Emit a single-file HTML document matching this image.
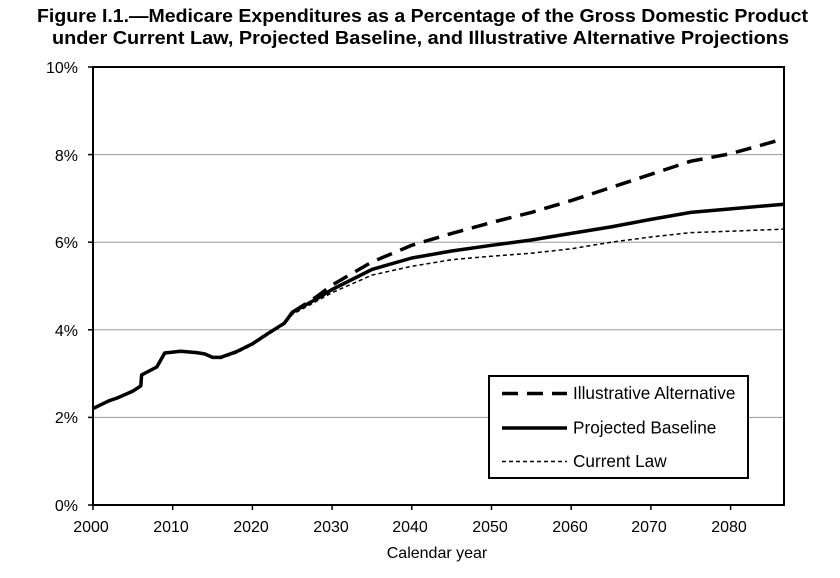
<!DOCTYPE html>
<html><head><meta charset="utf-8"><style>body{margin:0;background:#fff}svg{display:block}text{font-family:"Liberation Sans",Arial,sans-serif}</style></head><body>
<svg width="840" height="578" viewBox="0 0 840 578" xmlns="http://www.w3.org/2000/svg">
<text x="37" y="22" font-size="18.5" font-weight="bold" textLength="771" lengthAdjust="spacingAndGlyphs">Figure I.1.—Medicare Expenditures as a Percentage of the Gross Domestic Product</text>
<text x="52" y="44" font-size="18.5" font-weight="bold" textLength="737" lengthAdjust="spacingAndGlyphs">under Current Law, Projected Baseline, and Illustrative Alternative Projections</text>
<g stroke="#999" stroke-width="1">
<line x1="93" y1="417.4" x2="784" y2="417.4"/><line x1="93" y1="329.8" x2="784" y2="329.8"/><line x1="93" y1="242.2" x2="784" y2="242.2"/><line x1="93" y1="154.6" x2="784" y2="154.6"/>
</g>
<rect x="93" y="67" width="691" height="438" fill="none" stroke="#000" stroke-width="2"/>
<g stroke="#000" stroke-width="1.5">
<line x1="88" y1="505" x2="93" y2="505"/><line x1="88" y1="417.4" x2="93" y2="417.4"/><line x1="88" y1="329.8" x2="93" y2="329.8"/><line x1="88" y1="242.2" x2="93" y2="242.2"/><line x1="88" y1="154.6" x2="93" y2="154.6"/><line x1="88" y1="67" x2="93" y2="67"/>
<line x1="93" y1="505" x2="93" y2="510"/><line x1="172.7" y1="505" x2="172.7" y2="510"/><line x1="252.4" y1="505" x2="252.4" y2="510"/><line x1="332.1" y1="505" x2="332.1" y2="510"/><line x1="411.8" y1="505" x2="411.8" y2="510"/><line x1="491.5" y1="505" x2="491.5" y2="510"/><line x1="571.2" y1="505" x2="571.2" y2="510"/><line x1="650.9" y1="505" x2="650.9" y2="510"/><line x1="730.6" y1="505" x2="730.6" y2="510"/>
</g>
<g font-size="16" text-anchor="end">
<text x="78" y="511">0%</text><text x="78" y="423">2%</text><text x="78" y="336">4%</text><text x="78" y="248">6%</text><text x="78" y="161">8%</text><text x="78" y="73">10%</text>
</g>
<g font-size="16" text-anchor="middle">
<text x="91" y="532">2000</text><text x="171" y="532">2010</text><text x="251" y="532">2020</text><text x="331" y="532">2030</text><text x="410" y="532">2040</text><text x="490" y="532">2050</text><text x="570" y="532">2060</text><text x="649" y="532">2070</text><text x="729" y="532">2080</text>
<text x="437" y="558">Calendar year</text>
</g>
<g fill="none" stroke="#000" stroke-linejoin="round">
<polyline stroke-width="1.5" stroke-dasharray="4,3" points="212.6,357.4 220.5,358.5 236.5,353 252.4,345 268.3,334.5 284.3,324.5 292.3,314.5 332.1,292.6 372,275.1 411.8,266.3 451.7,259.7 491.5,256.2 531.4,253.2 571.2,248.8 611.1,242.2 650.9,237 690.8,232.6 730.6,231.2 784,229.1"/>
<polyline stroke-width="3.5" stroke-dasharray="16,9" points="292.3,312.3 316.2,297 332.1,285.1 372,261.9 411.8,245.3 451.7,233.4 491.5,222.5 531.4,212.4 571.2,200.6 611.1,187.5 650.9,174.3 690.8,161.2 730.6,153.7 784,138.8"/>
<polyline stroke-width="3.5" points="93,408.6 108.9,400.8 116.9,398.1 132.9,391.1 140.8,385.9 141.6,374.9 156.8,367 164.7,353 180.7,351.3 196.6,352.6 204.6,353.9 212.6,357.4 220.5,357.4 236.5,351.7 252.4,343.8 268.3,333.3 284.3,323.2 292.3,312.3 300.2,307.9 316.2,299.1 332.1,289.5 372,269.4 411.8,258 451.7,251 491.5,245.3 531.4,240 571.2,233.4 611.1,226.9 650.9,219.4 690.8,212.4 730.6,208.9 784,204.2"/>
</g>
<rect x="489" y="376" width="259" height="102" fill="#fff" stroke="#000" stroke-width="2"/>
<g stroke="#000" fill="none">
<line x1="502" y1="393.5" x2="567" y2="393.5" stroke-width="3.5" stroke-dasharray="16,9"/>
<line x1="502" y1="428" x2="567" y2="428" stroke-width="3.5"/>
<line x1="502" y1="461.5" x2="567" y2="461.5" stroke-width="1.5" stroke-dasharray="4,3"/>
</g>
<g font-size="17.2">
<text x="573" y="399">Illustrative Alternative</text>
<text x="573" y="433.5">Projected Baseline</text>
<text x="573" y="467">Current Law</text>
</g>
</svg>
</body></html>
